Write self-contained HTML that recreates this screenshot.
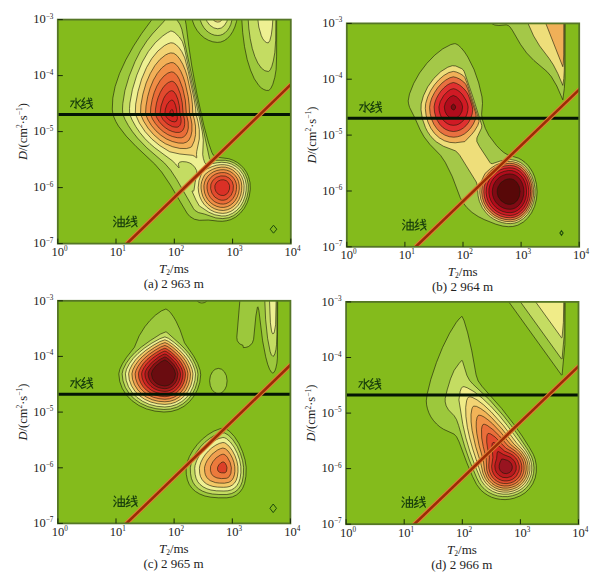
<!DOCTYPE html><html><head><meta charset="utf-8"><style>html,body{margin:0;padding:0;background:#fff;width:606px;height:581px;overflow:hidden}svg{display:block;position:absolute;left:0;top:0}text{font-family:"Liberation Serif",serif;fill:#222}</style></head><body>
<svg width="606" height="581" viewBox="0 0 606 581">
<defs>
<clipPath id="clip0"><rect x="57.8" y="19.6" width="233.0" height="224.0"/></clipPath>
<clipPath id="clip1"><rect x="346.8" y="23.4" width="232.4" height="223.4"/></clipPath>
<clipPath id="clip2"><rect x="57.9" y="300.8" width="232.5" height="222.6"/></clipPath>
<clipPath id="clip3"><rect x="346.1" y="301.9" width="232.4" height="222.3"/></clipPath>
</defs>
<rect x="57.8" y="19.6" width="233.0" height="224.0" fill="#84bb1c"/>
<g clip-path="url(#clip0)" stroke="#1a1a08" stroke-width="0.75" stroke-opacity="0.8">
<path fill="#9cc83c" fill-rule="evenodd" d="M154.1 16.6 184.6 16.6 186.1 24.6 188.8 46.2 191.8 66.1 196.8 93.3 203.8 125.3 208.3 142.1 211.8 152.3 213.3 155.1 215.3 156.7 217.8 157.3 228.8 158.7 233.3 160.3 237.5 162.6 240.8 165.2 244 168.6 246.7 172.6 248.5 176.6 250 182.6 250.3 189.1 249.3 196.1 247.3 202.5 244.3 208.2 240.4 213.1 235.8 217 230.8 219.6 226.8 220.7 222.3 221.3 217.8 221.1 208.3 220 199.3 220.3 194.3 219.2 189.8 216.4 187 213.1 170.3 184.9 161.7 172.1 154.8 164.1 136.2 146.6 126.2 136.1 118.5 126.1 115.9 121.6 113.9 117.1 112.9 114.1 112.3 109.1 112.8 98.1 115.1 86.6 119.5 73.6 125.7 60.1 133.5 46.1 141.6 33.6ZM191.9 16.6 237.4 16.6 236.5 21.6 234.8 27.1 232.7 31.6 230.3 35.3 227.3 38.5 224.3 40.6 220.8 42 217.3 42.4 212.8 41.8 208.3 40.2 204.3 37.9 200.5 34.6 197.2 30.6 194.5 26.1 192.6 21.1ZM241.6 16.6 276.7 16.6 276.6 56.1 276.1 69.6 274.8 77.3 272.8 84.3 270.8 88.5 268.8 90.4 266.3 90.4 263.8 89.5 261.3 87.9 258.9 85.6 254.3 78.8 250.5 70.1 247.2 59.6 244.5 46.6 242.7 32.6Z"/>
<path fill="#c4dc62" fill-rule="evenodd" d="M167.7 16.6 174.6 16.6 179.8 24.1 181.8 29.2 209.5 158.6 210.3 159.7 211.8 160.3 225.3 160.3 229.8 161.2 234.3 163.1 238.8 166.1 242.3 169.7 245.2 174.1 247.2 179.1 248.3 184.9 248.2 191.1 247 197.1 244.8 203.1 241.8 208.1 237.8 212.5 233.6 215.6 228.8 217.7 222.8 218.6 215.8 217.9 204.3 214 198.3 212.5 194.8 210.3 193.5 208.6 176.8 179.6 170.6 170.1 164.5 163.1 146.8 147.8 137.5 138.1 132.4 131.6 128.4 125.6 125.1 119.6 122.8 114.1 122.5 109.1 122.8 103.6 124.9 90.6 129.2 76.1 135 61.6 140.6 50.6 146.8 41 152.3 34 163.3 22.1ZM199.5 16.6 232.8 16.6 230.8 24.4 229.3 27.6 227.3 30.5 225.3 32.5 222.8 34.3 220.3 35.2 217.8 35.5 214.3 35.1 211.3 34 208.3 32.2 205.9 30.1 203.8 27.5 201.8 24.1 200.4 20.6ZM248 16.6 275.9 16.6 275.7 40.1 274.8 52.7 273.3 61 271.8 66.4 270.3 69.7 269.3 70.9 268.3 71.5 264.8 70.7 261.3 68 257.8 63 254.8 56.4 252.3 48.5 250.2 38.6 248.8 28.1Z"/>
<path fill="#eef092" fill-rule="evenodd" d="M205.2 16.6 228.3 16.6 226.8 21.6 224.3 25.6 221.3 28 217.8 28.8 213.8 27.9 209.8 25.2 207.1 21.6ZM257.5 16.6 273 16.6 272.3 27.1 271.3 34.9 269.8 40.7 268.3 42.8 266.8 42.7 264.8 41.4 262.8 38.8 261.3 35.7 258.8 27ZM170.8 31 172.3 31.3 174.8 32.6 179.3 37 182.3 41.5 184.3 47.7 202.3 131.8 203.3 140.1 202.7 154.6 203.4 158.6 204.7 162.6 205.8 163.9 207.8 164.5 217.3 162.7 221.8 162.3 226.8 162.7 231.3 164 235.8 166.5 239.9 170.1 243.1 174.6 245.2 179.6 246.3 185.1 246.1 190.6 245.1 196.1 243.1 201.6 240.3 206.4 236.8 210.3 232.8 213.2 228.3 215.2 225.3 215.9 221.8 216 214.8 214.8 208.8 212.2 199.3 205.9 196 200.1 192.2 191.6 192.3 190.9 193.3 191.3 194 190.1 195.1 182.6 196.9 174.1 196.7 170.6 194.8 167.3 192.3 164.6 189.8 163 186.3 161.9 182.3 161.6 179.8 162.1 178.7 163.1 178.4 164.6 179.1 167.6 178.8 167.9 175.7 164.1 172.1 160.6 154.8 147.8 149.8 143.5 144.9 138.6 139.9 132.6 135.8 126.6 132.2 120.1 129.7 114.1 129.5 108.6 129.9 103.1 132.4 89.6 136.8 75.1 142.3 62 148.3 51.6 155.3 42.7 162.8 35.9 167.3 32.8Z"/>
<path fill="#f2d474" fill-rule="evenodd" d="M210.9 16.6 223.7 16.6 222.8 18.7 221.3 20.6 219.8 21.7 217.8 22.1 215.8 21.7 213.8 20.5 212.3 19ZM170.8 42.8 173.3 43.1 176.3 44.9 179.3 48 181.8 51.6 184.8 57.9 188.3 71.7 194.3 100.1 195.6 108.1 196 114.1 198.1 122.1 199.3 129.6 199.3 139.1 196.7 151.6 196.5 154.6 196.8 157.6 196.3 157.7 194.3 156.1 192.3 155.3 179.8 154 169.8 151.8 159.8 145.6 151.9 139.1 145.1 131.6 139.4 123.1 135.3 114.1 135.7 104.1 138 91.6 141.6 79.1 146.5 67.6 151.8 58.5 157.8 51.1 164.3 45.7 167.8 43.8ZM202.8 169.7 205.3 169.6 212.2 166.6 216.3 165.3 220.3 164.7 224.3 164.7 228.3 165.4 232.5 167.1 236.2 169.6 239.1 172.6 241.7 176.6 243.4 181.1 244.1 185.6 243.9 191.1 242.8 196.2 240.8 201.1 237.9 205.6 234.3 209.2 230.8 211.4 226.8 212.9 222.8 213.4 218.8 213 214.8 212 210.8 210.1 207.3 207.6 203.9 204.1 201.6 200.6 199.8 196.6 198.6 192.1 198.2 187.6 199 180.6 201.8 172.6 202.3 170.1Z"/>
<path fill="#f2b058" fill-rule="evenodd" d="M170.8 52.9 173.8 53.3 176.8 55.4 179.8 59.1 182.8 64.3 185.3 70.2 187.3 76.5 191.3 95.1 192.4 104.1 192.8 114.1 194.5 120.1 195.5 126.1 195.6 134.6 194.3 140.9 191.7 146.6 190 147.6 186.3 148.6 179.8 148.4 172.8 146.8 165.3 143.7 159.8 140 153.6 134.6 148 128.1 143.6 121.1 140.5 114.1 140.9 105.1 142.9 94.1 146.1 83.1 150.2 73.6 154.8 65.7 159.8 59.6 165.3 55.1 168.3 53.6ZM221.3 167.1 225.3 167.2 228.8 168.1 232.3 169.7 235.4 172.1 238.1 175.1 240.1 178.6 241.3 182.1 241.8 186.1 241.6 190.6 240.7 195.1 238.9 199.6 236.7 203.1 233.9 206.1 230.8 208.3 227.3 209.8 223.3 210.5 218.8 210.1 214.8 208.9 211.3 207 207.8 204.1 205 200.6 202.9 196.6 201.7 192.6 201 188.1 201.1 184.6 201.7 181.6 203 178.1 204.8 174.6 208.8 171.4 212.8 169.2 216.8 167.8Z"/>
<path fill="#f08e46" fill-rule="evenodd" d="M170.8 62.6 173.3 62.7 175.8 64.3 178.3 67.2 180.8 71.3 183.1 76.6 185.1 82.6 188.2 96.6 189.2 105.1 189.6 114.1 191 119.1 191.9 124.1 191.9 131.1 190.9 136.1 188.8 140.3 186.3 142.2 183.3 143.2 178.3 143 172.3 141.5 166.3 138.9 160.8 135.2 155.8 130.7 151.5 125.6 148.1 120.1 145.5 114.1 146 106.1 147.7 96.6 150.1 88.1 153.4 80.1 157.3 73.4 161.8 67.9 166.3 64.3ZM220.3 169.8 223.8 169.7 226.8 170.2 229.8 171.3 232.8 173.2 235.3 175.7 237.3 178.6 238.5 181.6 239.2 185.1 239.3 189.1 238.6 193.1 237.3 196.8 235.3 200.4 233 203.1 230.3 205.2 227.3 206.7 223.8 207.4 220.3 207.3 216.8 206.4 213.3 204.7 210.5 202.6 207.9 199.6 206.1 196.6 204.7 193.1 204 189.1 203.9 185.6 204.6 182.1 205.9 179.1 207.8 176.2 210.3 173.9 213.3 171.9 216.8 170.5Z"/>
<path fill="#ea6c38" fill-rule="evenodd" d="M171.3 71.9 173.3 72.2 175.3 73.6 177.3 75.9 179.3 79.3 182.8 88.6 185.3 100.1 186.4 114.1 188.2 122.1 188.3 128.1 187.5 131.6 186.1 134.6 183.8 136.8 181.3 137.8 177.3 137.7 172.3 136.5 167.8 134.6 163.2 131.6 159.2 128.1 155.4 123.6 152.5 119.1 150.4 114.1 150.8 107.1 152.2 99.6 154.2 92.6 156.9 86.1 160.3 80.3 163.8 76.2 167.8 73.1ZM221.3 172.6 224.3 172.6 226.8 173.1 229.3 174.2 231.8 176 233.7 178.1 235.2 180.6 236.1 183.1 236.6 186.1 236.4 189.6 235.8 192.7 234.7 195.6 232.9 198.6 230.8 200.9 228.4 202.6 225.8 203.7 223.3 204.1 220.3 203.9 217.3 203 214.8 201.8 212.3 199.8 210.3 197.5 208.6 194.6 207.6 191.6 207 188.1 207.1 185.1 207.7 182.6 208.9 180.1 210.7 177.6 213 175.6 215.5 174.1 218.3 173.1Z"/>
<path fill="#e24a2e" fill-rule="evenodd" d="M171.3 81.3 172.8 81.4 174.3 82.3 175.9 84.1 177.7 87.1 180.3 93.9 182.2 102.6 183.2 114.1 184.6 120.1 184.7 124.6 184.1 127.6 182.9 130.1 181.3 131.6 179.3 132.4 175.8 132.4 172.3 131.5 168.8 130 165.1 127.6 161.8 124.7 159.2 121.6 157 118.1 155.2 114.1 155.5 109.1 156.5 103.1 158.1 97.6 160.3 92.3 162.7 88.1 165.3 84.9 168.3 82.5ZM220.8 175.9 225.3 176.1 229.3 178.1 232.2 181.6 233.4 185.6 233.1 190.6 231.2 195.1 227.9 198.6 225.8 199.7 223.8 200.2 221.3 200.2 218.9 199.6 214.8 197.1 211.9 193.1 210.6 188.6 210.9 184.1 212.8 180.4 216.3 177.4Z"/>
<path fill="#da3026" fill-rule="evenodd" d="M171.3 90.7 173.3 91.1 175.8 94.3 177.8 99.2 179.3 105.6 180 114.1 181 118.6 181.1 121.6 180.7 123.6 179.8 125.5 178.8 126.5 177.3 127.2 174.8 127.1 172.3 126.6 167.3 123.9 163 119.6 160 114.1 161 106.1 163.6 98.6 165.3 95.6 167.3 93.1 169.3 91.5ZM220.8 179.9 223.8 179.8 226.3 180.7 228.3 182.6 229.6 185.6 229.5 189.1 228.3 192.1 226.3 194.4 223.8 195.5 220.8 195.3 218.2 194.1 216 191.6 214.9 188.6 214.9 185.6 216 183.1 218.1 181.1Z"/>
<path fill="#d42420" fill-rule="evenodd" d="M171.8 100 173.3 100.7 174.5 102.6 175.6 105.6 176.5 109.6 177.4 118.6 176.5 121.1 174.8 121.9 171.8 121.4 168.8 119.7 166.4 117.1 164.8 114.1 165.4 109.1 167 104.6 169.3 101.4Z"/>
<path fill="#c81c1c" fill-rule="evenodd" d="M171.8 109.4 172.8 110.1 173.5 112.6 173.8 115.6 173.3 116.5 172.8 116.6 170.8 115.8 169.6 114.1 170.2 111.1Z"/>
</g>
<path d="M273.5 225.2L276.8 229.2L273.5 233.2L270.2 229.2Z" fill="none" stroke="#1e4a0c" stroke-width="1.0"/>
<line x1="57.8" y1="114.5" x2="290.8" y2="114.5" stroke="#041404" stroke-width="3"/>
<g clip-path="url(#clip0)"><line x1="126.5" y1="244.0" x2="291.0" y2="84.3" stroke="#de7e34" stroke-width="4.6"/><line x1="126.5" y1="244.0" x2="291.0" y2="84.3" stroke="#9a2c06" stroke-width="2.5"/></g>
<rect x="57.8" y="19.6" width="233.0" height="224.0" fill="none" stroke="#557626" stroke-width="1.8"/>
<line x1="57.8" y1="243.6" x2="57.8" y2="238.6" stroke="#1a2a0a" stroke-width="1"/>
<line x1="57.8" y1="19.6" x2="62.8" y2="19.6" stroke="#1a2a0a" stroke-width="1"/>
<line x1="116.0" y1="243.6" x2="116.0" y2="238.6" stroke="#1a2a0a" stroke-width="1"/>
<line x1="57.8" y1="75.6" x2="62.8" y2="75.6" stroke="#1a2a0a" stroke-width="1"/>
<line x1="174.3" y1="243.6" x2="174.3" y2="238.6" stroke="#1a2a0a" stroke-width="1"/>
<line x1="57.8" y1="131.6" x2="62.8" y2="131.6" stroke="#1a2a0a" stroke-width="1"/>
<line x1="232.6" y1="243.6" x2="232.6" y2="238.6" stroke="#1a2a0a" stroke-width="1"/>
<line x1="57.8" y1="187.6" x2="62.8" y2="187.6" stroke="#1a2a0a" stroke-width="1"/>
<line x1="290.8" y1="243.6" x2="290.8" y2="238.6" stroke="#1a2a0a" stroke-width="1"/>
<line x1="57.8" y1="243.6" x2="62.8" y2="243.6" stroke="#1a2a0a" stroke-width="1"/>
<text x="51.6" y="256.1" font-size="12.5">10<tspan font-size="7.2" dy="-5">0</tspan></text>
<text x="33.2" y="23.4" font-size="12.5">10<tspan font-size="7.2" dy="-4.8">&#8722;3</tspan></text>
<text x="109.8" y="256.1" font-size="12.5">10<tspan font-size="7.2" dy="-5">1</tspan></text>
<text x="33.2" y="79.4" font-size="12.5">10<tspan font-size="7.2" dy="-4.8">&#8722;4</tspan></text>
<text x="168.1" y="256.1" font-size="12.5">10<tspan font-size="7.2" dy="-5">2</tspan></text>
<text x="33.2" y="135.4" font-size="12.5">10<tspan font-size="7.2" dy="-4.8">&#8722;5</tspan></text>
<text x="226.4" y="256.1" font-size="12.5">10<tspan font-size="7.2" dy="-5">3</tspan></text>
<text x="33.2" y="191.4" font-size="12.5">10<tspan font-size="7.2" dy="-4.8">&#8722;6</tspan></text>
<text x="284.6" y="256.1" font-size="12.5">10<tspan font-size="7.2" dy="-5">4</tspan></text>
<text x="33.2" y="247.4" font-size="12.5">10<tspan font-size="7.2" dy="-4.8">&#8722;7</tspan></text>
<text x="174.0" y="272.9" font-size="13" text-anchor="middle"><tspan font-style="italic">T</tspan><tspan font-size="7.5" dy="2.2">2</tspan><tspan dy="-2.2">/ms</tspan></text>
<text x="173.8" y="288.2" font-size="13" text-anchor="middle">(a) 2 963 m</text>
<text transform="translate(26.8 131.6) rotate(-90)" font-size="12.5" text-anchor="middle"><tspan font-style="italic">D</tspan>/(cm<tspan font-size="7.5" dy="-4.5">2</tspan><tspan dy="4.5">&#183;s</tspan><tspan font-size="7.5" dy="-4.5">&#8722;1</tspan><tspan dy="4.5">)</tspan></text>
<g transform="translate(69.8 97.5)" fill="none" stroke="#1a400c" stroke-width="1.15" stroke-linecap="round"><path d="M6.2 0.6 V10.8 L4.6 9.8 M1.0 3.6 H4.3 L0.8 9.2 M10.8 2.4 L7.6 5.2 M6.8 4.2 Q8.5 7.8 11.6 10.4 M 14.6 0.4 L 12.2 4.0 L 14.9 4.4 L 11.8 8.4 L 15.6 7.2 M 11.8 11.2 L 15.9 9.6 M 17 3.4 L 22 2.9 M 16.6 6.0 L 22.6 5.3 M 18.8 0.5 Q 19.6 7.0 22.8 11.0 M 22.6 7.3 L 17.2 11.4 M 20.8 0.6 L 22 1.6"/></g>
<g transform="translate(112.8 215.6)" fill="none" stroke="#1a400c" stroke-width="1.15" stroke-linecap="round"><path d="M1.4 0.8 L2.8 2.2 M0.8 4.6 L2.3 5.8 M0.9 11.2 L3.4 7.0 M5.2 3.6 H11.4 V11.0 H5.2 Z M8.3 0.4 V11.0 M5.2 7.2 H11.4 M 16.1 0.4 L 13.7 4.0 L 16.4 4.4 L 13.3 8.4 L 17.1 7.2 M 13.3 11.2 L 17.4 9.6 M 18.5 3.4 L 23.5 2.9 M 18.1 6.0 L 24.1 5.3 M 20.3 0.5 Q 21.1 7.0 24.3 11.0 M 24.1 7.3 L 18.7 11.4 M 22.3 0.6 L 23.5 1.6"/></g>
<rect x="346.8" y="23.4" width="232.4" height="223.4" fill="#84bb1c"/>
<g clip-path="url(#clip1)" stroke="#1a1a08" stroke-width="0.75" stroke-opacity="0.8">
<path fill="#a4c848" fill-rule="evenodd" d="M488.6 20.4 565.2 20.4 565 78.4 564.3 88.5 562.8 99.8 556.8 86 551.3 76.6 546.8 71.4 533.8 60.4 526.6 52.9 520.5 44.4 512.3 30.2 509.8 26.7 508.3 25.5 506.3 24.8 498.8 25.5 494.8 25 491.3 23.4ZM450.8 44.6 454.3 43.7 455.8 43.8 458.3 45.2 461.3 48 464.5 51.9 467.8 57 474 69.4 478.7 82.9 482 96.9 482.5 103.4 481.6 114.4 482.3 119.4 485.3 128.4 488.8 135.3 496.3 145.3 500.3 149.5 503.8 152.5 507.8 154.9 518.3 158.1 521.8 160 525.3 162.7 528 165.4 530.6 168.9 532.7 172.4 534.6 176.9 536.5 184.4 537.1 191.9 536.5 198.9 534.6 206.4 531.5 212.9 527.4 218.4 523.3 222.1 517.8 225.2 512.8 226.5 508.3 226.7 502.8 226.1 495.8 224.2 484.3 219.6 478.3 216.6 472 212.4 466.8 207.5 463.2 202.9 460.3 197.9 452.2 176.4 445.3 162.4 440.6 155.4 429.8 144.3 424.1 136.9 420.2 129.9 414.8 117.8 409.6 107.4 408.6 103.9 408.2 100.9 409.5 93.9 413.7 83.4 419.6 72.9 426.8 63.4 434.8 55.1 442.8 48.8Z"/>
<path fill="#eede7a" fill-rule="evenodd" d="M528.8 20.4 564.5 20.4 564.3 69.9 563.8 78.5 562.8 85.4 557.8 73.5 553.3 64.8 549.3 58.7 539.6 45.9 533.6 35.9 527.8 22.9ZM447.8 67.2 452.3 65.7 455.8 66 461.8 68.7 463.3 70 464.3 71.8 473 97.4 481.8 125.4 481.6 127.9 476.9 137.9 476.8 141.4 479.4 146.4 489.9 162.4 490.8 163.4 492.3 163.7 500.3 161 505.3 159.9 510.8 159.6 515.8 160.5 520.8 162.7 524.8 165.8 528.4 169.9 531.6 175.4 533.9 181.9 535 188.4 534.9 195.4 533.6 202.4 531.1 208.9 527.6 214.4 523.3 218.7 518.3 221.8 514.8 223 510.8 223.6 506.3 223.4 502.3 222.6 497.8 221.2 493.8 219.2 490.3 216.8 487 213.9 482.4 207.9 479.4 201.4 478.1 195.9 477.3 185.4 476.3 182 459.8 155.4 457.3 152.4 455.3 150.8 443.3 146.2 436.3 141.8 433.1 138.9 430.1 135.4 427.4 131.4 425.4 127.4 422.4 118.9 421 109.9 421.2 103.9 423.4 95.9 427.7 86.9 433.8 78.4 440.8 71.6Z"/>
<path fill="#f0b058" fill-rule="evenodd" d="M546.6 20.4 563.8 20.4 563.7 54.9 563.3 63.7 562.8 66.7 545.6 22.9ZM453.3 71.4 456.3 72 459.8 73.5 463.3 75.7 464.8 77.5 467.3 83.8 478.4 117.9 479.1 121.4 477.8 125.4 474.5 130.9 471.7 134.4 464.8 141.6 455.3 142.8 449.8 142.4 444.3 140.7 439.3 137.8 434.5 133.4 430.8 128.2 427.9 121.9 426.1 115.4 425.3 108.4 425.7 103.4 427.7 96.9 430.5 90.9 434.4 84.9 438.8 79.8 443.8 75.5 448.8 72.6ZM507.8 161.5 512.8 161.7 517.3 162.9 521.8 165.4 525.6 168.9 528.8 173.2 531.3 178.4 532.9 183.9 533.7 189.9 533.5 195.9 532.3 201.8 530.3 207.1 527.5 211.9 523.8 216.1 519.8 219.1 515.3 221 510.8 221.7 504.8 221.3 499.3 219.8 493.8 217 489.3 213.5 485.6 209.4 482.7 204.4 480.7 198.9 479.8 192.9 480 187.9 481 182.9 482.6 178.4 485.1 173.4 490.6 168.4 495.8 165 501.8 162.6Z"/>
<path fill="#e87040" fill-rule="evenodd" d="M453.3 76.8 456.3 77.5 459.8 79.1 463.8 82 465.8 84.3 467.8 88.9 475.3 111.6 476.2 115.9 475.6 118.9 473.4 123.9 470.8 127.9 467.8 131.2 464.3 134 460.8 135.8 457.3 136.8 453.8 137.2 449.3 136.7 444.8 135.1 440.5 132.4 436.8 128.6 433.8 124.2 431.5 118.9 430.1 113.4 429.6 107.4 430.2 102.9 431.8 97.9 434.6 92.4 437.8 87.6 441.8 83.2 445.8 80 449.8 77.8ZM509.3 163.3 513.8 163.7 517.8 165.1 521.8 167.6 525.3 171.1 528.2 175.4 530.3 180.1 531.7 185.4 532.2 190.9 531.9 196.4 530.7 201.9 528.7 206.9 525.9 211.4 522.6 214.9 518.8 217.6 514.8 219.2 510.3 219.9 504.8 219.4 499.6 217.9 494.7 215.4 490.3 211.9 486.8 207.8 484.1 202.9 482.3 197.4 481.7 191.9 482.2 186.4 483.8 180.9 486.4 175.9 489.7 171.9 493.8 168.4 498.8 165.6 503.8 164Z"/>
<path fill="#e03030" fill-rule="evenodd" d="M453.3 82.5 456.3 83.3 459.8 85.2 463.3 88.1 466.3 91.5 468.3 94.9 470.3 100.1 472.3 106.6 472.7 109.9 472.2 113.9 470.7 118.4 468.8 122.1 466.3 125.4 463.3 128.1 460.3 129.9 456.8 131.1 453.3 131.5 449.3 130.9 445.8 129.5 442.7 127.4 439.8 124.4 437.3 120.5 435.6 116.4 434.5 111.9 434.1 106.9 434.8 102.9 436.2 98.9 438.3 94.9 440.8 91.2 443.8 87.9 447.3 85 450.3 83.4ZM509.8 165.4 513.8 165.8 517.8 167.3 521.3 169.7 524.4 172.9 527.1 176.9 529 181.4 530.2 186.4 530.6 191.4 530.3 196.4 529.1 201.4 527.3 205.9 524.8 209.9 521.8 213.1 518.3 215.6 514.3 217.2 510.3 217.8 505.3 217.4 500.3 216 495.8 213.6 491.7 210.4 488.4 206.4 485.9 201.9 484.3 196.9 483.8 191.9 484.2 186.9 485.6 181.9 488 177.4 491.3 173.2 495.3 169.9 499.8 167.4 504.8 165.9Z"/>
<path fill="#d01a24" fill-rule="evenodd" d="M453.3 88.7 455.3 89.1 457.8 90.4 460.3 92.3 462.8 95 466.4 100.9 467.5 103.9 468.1 106.9 467.8 110.4 467 113.9 465.8 116.9 463.8 119.9 461.4 122.4 458.8 124.1 456.3 125 453.3 125.3 450.3 124.9 447.8 123.9 445.3 122.2 443.1 119.9 441.3 117.1 440 113.9 439.2 110.4 438.9 106.9 440.3 101.4 443.8 95.4 448.3 90.9 450.8 89.4ZM508.8 167.8 512.8 168 516.3 169.1 519.8 171.2 522.6 173.9 525.1 177.4 527 181.4 528.2 185.9 528.8 190.9 528.5 195.4 527.6 199.9 525.8 204.4 523.7 207.9 520.8 211.1 517.7 213.4 514.1 214.9 510.3 215.5 505.8 215.1 501.3 213.8 497.3 211.8 493.5 208.9 490.5 205.4 488.2 201.4 486.7 196.9 486.1 192.4 486.4 187.9 487.6 183.4 489.8 178.9 492.5 175.4 495.8 172.4 499.8 170 504.3 168.4Z"/>
<path fill="#b00c1c" fill-rule="evenodd" d="M453.3 95.5 456.3 96.7 459.3 99.5 461.7 103.4 462.6 106.9 461.9 111.4 459.8 115.3 456.8 117.7 453.3 118.5 449.8 117.6 446.8 114.9 445 111.4 444.3 106.9 445.3 103.2 447.6 99.4 450.3 96.8ZM508.3 170.5 511.8 170.6 514.8 171.4 517.8 172.9 520.7 175.4 523 178.4 524.8 181.9 526 185.9 526.5 189.9 526.5 194.4 525.7 198.4 524.3 202.3 522.3 205.8 520.1 208.4 517.3 210.6 514.3 212 510.8 212.7 506.8 212.5 502.8 211.5 499.3 209.8 495.8 207.3 493.2 204.4 491 200.9 489.5 196.9 488.9 192.9 489 188.9 490 184.9 491.5 181.4 493.9 177.9 496.8 175.1 500.3 172.8 504.3 171.3Z"/>
<path fill="#800a14" fill-rule="evenodd" d="M453.3 104.1 454.8 105 455.7 106.9 455.1 108.9 454.3 109.7 453.3 109.9 451.7 108.9 451.1 106.9 451.8 105.3ZM509.8 173.9 512.8 174.3 515.3 175.2 517.8 176.9 519.7 178.9 521.4 181.4 522.8 184.7 523.6 187.9 523.9 191.4 523.7 194.9 522.8 198.4 521.6 201.4 520 203.9 517.8 206.3 515.4 207.9 512.8 208.9 510.3 209.3 506.8 209 503.3 208 500.3 206.4 497.8 204.4 495.6 201.9 493.8 198.8 492.7 195.4 492.3 191.9 492.6 188.4 493.6 184.9 495.2 181.9 497.3 179.3 499.8 177.1 502.8 175.4 506.3 174.3Z"/>
<path fill="#580808" fill-rule="evenodd" d="M509.8 178.8 511.8 179 513.8 179.7 517 182.4 519.2 186.4 520.1 191.4 519.3 196.4 517.3 200.4 513.9 203.4 510.3 204.4 507.8 204.2 505.3 203.5 501.2 200.9 498.3 196.9 497.5 194.4 497.2 191.9 497.4 189.4 498.1 186.9 500.8 182.7 504.8 179.9 507.3 179.1Z"/>
</g>
<path d="M561.5 230.8L563.1 233.0L561.5 235.2L559.9 233.0Z" fill="none" stroke="#1e4a0c" stroke-width="1.1"/>
<line x1="346.8" y1="118.2" x2="579.2" y2="118.2" stroke="#041404" stroke-width="3"/>
<g clip-path="url(#clip1)"><line x1="415.5" y1="247.0" x2="580.0" y2="88.8" stroke="#de7e34" stroke-width="4.6"/><line x1="415.5" y1="247.0" x2="580.0" y2="88.8" stroke="#9a2c06" stroke-width="2.5"/></g>
<rect x="346.8" y="23.4" width="232.4" height="223.4" fill="none" stroke="#557626" stroke-width="1.8"/>
<line x1="346.8" y1="246.8" x2="346.8" y2="241.8" stroke="#1a2a0a" stroke-width="1"/>
<line x1="346.8" y1="23.4" x2="351.8" y2="23.4" stroke="#1a2a0a" stroke-width="1"/>
<line x1="404.9" y1="246.8" x2="404.9" y2="241.8" stroke="#1a2a0a" stroke-width="1"/>
<line x1="346.8" y1="79.2" x2="351.8" y2="79.2" stroke="#1a2a0a" stroke-width="1"/>
<line x1="463.0" y1="246.8" x2="463.0" y2="241.8" stroke="#1a2a0a" stroke-width="1"/>
<line x1="346.8" y1="135.1" x2="351.8" y2="135.1" stroke="#1a2a0a" stroke-width="1"/>
<line x1="521.1" y1="246.8" x2="521.1" y2="241.8" stroke="#1a2a0a" stroke-width="1"/>
<line x1="346.8" y1="191.0" x2="351.8" y2="191.0" stroke="#1a2a0a" stroke-width="1"/>
<line x1="579.2" y1="246.8" x2="579.2" y2="241.8" stroke="#1a2a0a" stroke-width="1"/>
<line x1="346.8" y1="246.8" x2="351.8" y2="246.8" stroke="#1a2a0a" stroke-width="1"/>
<text x="340.6" y="259.3" font-size="12.5">10<tspan font-size="7.2" dy="-5">0</tspan></text>
<text x="322.2" y="27.2" font-size="12.5">10<tspan font-size="7.2" dy="-4.8">&#8722;3</tspan></text>
<text x="398.7" y="259.3" font-size="12.5">10<tspan font-size="7.2" dy="-5">1</tspan></text>
<text x="322.2" y="83.0" font-size="12.5">10<tspan font-size="7.2" dy="-4.8">&#8722;4</tspan></text>
<text x="456.8" y="259.3" font-size="12.5">10<tspan font-size="7.2" dy="-5">2</tspan></text>
<text x="322.2" y="138.9" font-size="12.5">10<tspan font-size="7.2" dy="-4.8">&#8722;5</tspan></text>
<text x="514.9" y="259.3" font-size="12.5">10<tspan font-size="7.2" dy="-5">3</tspan></text>
<text x="322.2" y="194.8" font-size="12.5">10<tspan font-size="7.2" dy="-4.8">&#8722;6</tspan></text>
<text x="573.0" y="259.3" font-size="12.5">10<tspan font-size="7.2" dy="-5">4</tspan></text>
<text x="322.2" y="250.6" font-size="12.5">10<tspan font-size="7.2" dy="-4.8">&#8722;7</tspan></text>
<text x="462.7" y="276.1" font-size="13" text-anchor="middle"><tspan font-style="italic">T</tspan><tspan font-size="7.5" dy="2.2">2</tspan><tspan dy="-2.2">/ms</tspan></text>
<text x="462.5" y="291.4" font-size="13" text-anchor="middle">(b) 2 964 m</text>
<text transform="translate(315.8 135.1) rotate(-90)" font-size="12.5" text-anchor="middle"><tspan font-style="italic">D</tspan>/(cm<tspan font-size="7.5" dy="-4.5">2</tspan><tspan dy="4.5">&#183;s</tspan><tspan font-size="7.5" dy="-4.5">&#8722;1</tspan><tspan dy="4.5">)</tspan></text>
<g transform="translate(358.8 101.2)" fill="none" stroke="#1a400c" stroke-width="1.15" stroke-linecap="round"><path d="M6.2 0.6 V10.8 L4.6 9.8 M1.0 3.6 H4.3 L0.8 9.2 M10.8 2.4 L7.6 5.2 M6.8 4.2 Q8.5 7.8 11.6 10.4 M 14.6 0.4 L 12.2 4.0 L 14.9 4.4 L 11.8 8.4 L 15.6 7.2 M 11.8 11.2 L 15.9 9.6 M 17 3.4 L 22 2.9 M 16.6 6.0 L 22.6 5.3 M 18.8 0.5 Q 19.6 7.0 22.8 11.0 M 22.6 7.3 L 17.2 11.4 M 20.8 0.6 L 22 1.6"/></g>
<g transform="translate(401.8 218.8)" fill="none" stroke="#1a400c" stroke-width="1.15" stroke-linecap="round"><path d="M1.4 0.8 L2.8 2.2 M0.8 4.6 L2.3 5.8 M0.9 11.2 L3.4 7.0 M5.2 3.6 H11.4 V11.0 H5.2 Z M8.3 0.4 V11.0 M5.2 7.2 H11.4 M 16.1 0.4 L 13.7 4.0 L 16.4 4.4 L 13.3 8.4 L 17.1 7.2 M 13.3 11.2 L 17.4 9.6 M 18.5 3.4 L 23.5 2.9 M 18.1 6.0 L 24.1 5.3 M 20.3 0.5 Q 21.1 7.0 24.3 11.0 M 24.1 7.3 L 18.7 11.4 M 22.3 0.6 L 23.5 1.6"/></g>
<rect x="57.9" y="300.8" width="232.5" height="222.6" fill="#84bb1c"/>
<g clip-path="url(#clip2)" stroke="#1a1a08" stroke-width="0.75" stroke-opacity="0.8">
<path fill="#9cc83c" fill-rule="evenodd" d="M195.2 297.8 208.8 297.8 207.9 299.8 206.4 301.5 204.4 302.6 201.9 303 199.9 302.7 197.9 301.7 196.1 299.8ZM240.1 297.8 277.7 297.8 277.4 358.1 276.9 363.2 275.9 367.9 274.9 370.9 273.4 372.9 272.4 372.9 271.4 372.2 269.6 369.3 267.7 364.3 265.7 356.8 262.6 340.8 258.9 310.5 257.9 306.8 257.4 307.4 255.9 315.9 253.6 339.3 252.4 342.8 250.8 344.8 248.4 346.6 245.9 347.4 243.4 347.6 242.9 345.2 240.9 344.5 239.4 343.6 237.3 340.8 236.8 337.3ZM165.9 309 167.9 310.1 170.6 312.8 173.4 316.7 176.1 321.3 180 329.8 184.5 342.8 193.5 355.8 197.6 363.3 200.1 370.3 200.7 374.8 199.8 382.3 197.6 389.3 194.2 395.8 189.4 401.8 184 406.3 177.9 409.5 170.9 411.5 163.9 412 154.9 411.1 146.4 408.9 138.9 405.5 132.1 400.8 126.4 395 122.2 388.3 119.7 381.3 118.8 373.8 119.8 369.3 122.4 363.8 126.2 357.8 134.4 347.3 139.2 335.8 144.8 326.8 149.9 320.6 155.4 315.2 161.4 310.9ZM218.4 368.4 221.7 369.3 224.4 371.8 226.4 375.8 227.1 380.8 226.5 385.8 224.7 389.8 221.9 392.5 220.4 393.3 218.4 393.6 216.4 393.3 214.9 392.6 212.1 389.8 210.3 385.8 209.6 380.8 210.4 375.8 212.4 371.8 215.1 369.3ZM224.4 428.4 226.9 429.5 229.4 431.2 234.4 436.5 238.9 443.5 242.6 451.8 245 459.8 246.2 467.3 245.9 476.3 244.6 483.3 242.6 488.3 239.9 492.1 236.4 495 232.4 496.9 226.9 497.8 218.4 497.8 210.9 497.2 204.9 496 199.9 494.1 195.4 491.4 191.9 488.2 189.2 484.3 187.4 479.8 186.3 474.3 186.1 467.8 187 462.8 189.4 456.6 192.9 450.3 197.4 444.3 202.4 439.1 207.9 434.7 213.9 431.1 219.9 428.8 222.9 428.2Z"/>
<path fill="#c4dc62" fill-rule="evenodd" d="M264.7 297.8 277 297.8 276.9 334.3 276.5 344.8 275.9 349.8 274.9 353.7 273.9 355.8 272.9 356.4 271.4 354.9 270.2 351.8 267.6 338.3 265.6 319.3ZM165.4 332 166.4 332.1 167.9 333.2 179.4 343.5 184.8 348.8 188.9 353.6 192.5 358.8 195.3 364.3 197.3 369.8 198 374.3 197.3 381.3 195.2 388.3 192.1 394.3 187.8 399.8 182.9 403.9 176.9 407.2 170.4 409 163.9 409.5 155.9 408.7 147.9 406.6 140.6 403.3 134.4 399 129.4 393.8 125.3 387.3 123 380.8 122.1 373.8 123.2 369.3 126.2 363.3 130.1 357.8 134.9 352.6 141.4 347 150.4 340.5 160.4 334.1ZM224.4 432.9 228.4 435.1 232.9 439.8 237.2 446.3 240.5 453.8 242.6 460.8 243.6 467.3 243.4 475.3 242.2 481.8 240.6 485.8 238.2 489.3 234.9 492 231.4 493.6 226.9 494.5 218.9 494.5 212.4 494 206.9 492.8 202.4 491.1 198.6 488.8 195.3 485.8 193 482.3 191.4 478.3 190.5 473.3 190.3 467.8 191.2 463.3 193.3 457.8 196.4 452.3 200.4 446.9 204.9 442.3 209.9 438.3 215.4 435 220.9 433.1Z"/>
<path fill="#eef092" fill-rule="evenodd" d="M269.4 297.8 276.2 297.8 275.6 324.8 274.4 331.7 273.9 333.1 272.9 334 271.9 332.3 271.4 330.1 270.4 322.8ZM164.9 336.9 168.4 338.3 174.4 342.6 180.9 348.2 185.9 353.6 189.4 358.3 192.5 363.8 194.6 369.3 195.5 373.8 194.9 380.3 193.1 386.8 190.1 392.8 186.4 397.6 181.9 401.5 176.4 404.6 170.9 406.3 164.9 407 156.9 406.3 149.4 404.4 142.6 401.3 136.9 397.3 132 392.3 128.5 386.8 126.2 380.3 125.4 373.8 126.5 369.3 129.3 363.8 133.3 358.3 137.9 353.5 144.2 348.3 151.9 343.1 159.9 338.7ZM222.9 437.5 224.4 437.7 226.4 438.6 230.4 442.1 234.2 447.3 237.4 453.6 239.6 459.8 240.8 466.3 240.9 472.8 240.1 478.3 238.8 482.3 236.9 485.6 234.4 488.2 231.4 489.9 227.9 490.8 223.9 491 216.4 490.8 210.9 490 206.9 488.8 203 486.8 199.9 484.3 197.8 481.8 196.1 478.3 195.1 474.3 194.7 468.3 195.1 465.3 196.6 460.8 199.1 455.8 202.2 451.3 205.9 447.1 209.9 443.6 214.4 440.6 218.9 438.5Z"/>
<path fill="#f2c866" fill-rule="evenodd" d="M164.9 339.8 168.4 341.3 173.4 344.8 179.2 349.8 183.9 354.8 187.3 359.3 190.1 364.3 192.1 369.3 193 373.8 192.4 379.8 190.8 385.8 188 391.3 184.6 395.8 180.4 399.5 175.4 402.3 170.4 403.8 164.9 404.4 157.9 403.8 150.9 402.1 144.7 399.3 139.4 395.7 134.9 391.1 131.5 385.8 129.3 379.8 128.6 373.8 129.6 369.8 132.1 364.8 135.6 359.8 139.9 355.3 145.8 350.3 152.9 345.5 159.9 341.6ZM222.9 442.5 224.4 442.7 225.9 443.5 229.2 446.3 232.4 450.7 235 455.8 236.9 461.2 237.9 466.3 238 471.8 237.3 476.8 236.2 480.3 234.7 482.8 232.4 485 229.9 486.4 226.9 487.1 223.4 487.3 217.4 487.1 212.9 486.4 209.4 485.3 206.4 483.8 203.9 481.8 201.9 479.3 200.4 476.3 199.7 473.3 199.4 468.3 199.8 465.8 200.9 462.2 202.9 458.2 205.5 454.3 208.6 450.8 211.9 447.8 215.9 445.1 219.4 443.4Z"/>
<path fill="#f0a050" fill-rule="evenodd" d="M164.9 342.6 167.9 343.8 172.9 347.4 178 351.8 182.2 356.3 185.5 360.8 187.9 365.3 189.7 369.8 190.5 373.8 190 379.3 188.4 384.8 186 389.8 182.9 393.8 179 397.3 174.9 399.7 169.9 401.3 164.9 401.8 158.4 401.3 152.4 399.8 146.8 397.3 141.7 393.8 137.7 389.8 134.5 384.8 132.5 379.3 131.9 373.8 132.9 369.8 135.2 365.3 138.4 360.8 142.4 356.6 147.9 352 154.4 347.6 160.4 344.2ZM222.9 448 225.4 448.8 227.9 450.9 230.4 454.3 232.5 458.3 233.9 462.3 234.8 466.8 234.9 471.3 234.4 474.8 233.6 477.3 232.4 479.5 230.9 481.1 228.9 482.3 224.4 483.2 219.4 483.1 215.4 482.6 210.4 480.7 208.4 479.2 206.7 477.3 205.4 474.8 204.8 472.3 204.5 468.3 204.8 466.3 205.8 463.3 207.4 460.1 211.9 454.3 217.4 450.1 220.4 448.7Z"/>
<path fill="#ec7a3c" fill-rule="evenodd" d="M164.9 345.4 167.9 346.7 171.9 349.6 176.7 353.8 180.4 357.8 183.3 361.8 185.6 365.8 187.3 370.3 188 373.8 187.5 378.8 186.1 383.8 183.9 388.3 181.3 391.8 177.9 394.9 173.9 397.3 169.4 398.8 164.9 399.3 158.9 398.7 153.4 397.3 148.4 395 143.9 391.9 140.4 388.3 137.5 383.8 135.7 378.8 135.1 373.8 136 370.3 138 366.3 140.8 362.3 144.4 358.3 149.4 354.1 155.4 350 160.9 346.9ZM223.9 454.3 225.6 455.3 227.4 457.3 230.1 462.3 231.4 467.8 230.9 473.3 229.4 476.4 227.9 477.7 226.4 478.3 221.4 478.6 216.9 477.9 213.5 476.3 211.4 473.8 210.4 470.3 210.6 466.3 212.8 461.8 216.2 457.8 220.4 455 222.4 454.3Z"/>
<path fill="#dc4028" fill-rule="evenodd" d="M164.9 348.2 167.4 349.3 171.4 352.2 175.4 355.8 178.9 359.6 181.4 363.1 183.4 366.8 185 370.8 185.5 373.8 185.1 378.3 183.8 382.8 181.8 386.8 179.4 390.1 176.4 392.8 172.9 394.9 168.9 396.2 164.9 396.7 159.9 396.2 154.9 395 150.4 392.9 146.4 390.2 143.1 386.8 140.6 382.8 138.9 378.3 138.4 373.8 139.1 370.8 141.1 366.8 143.5 363.3 146.9 359.6 151.4 355.8 156.4 352.4 161.4 349.5ZM222.9 461.9 223.9 462 225.4 463.5 226.4 465.4 227 467.8 226.5 471.3 225.7 472.3 224.4 472.9 221.4 472.8 219.4 472.2 217.9 470.8 217.5 469.3 217.6 467.3 218.9 464.8 220.9 462.8Z"/>
<path fill="#d02424" fill-rule="evenodd" d="M164.9 351.1 166.9 351.9 170.4 354.4 174.1 357.8 177.3 361.3 181.3 367.8 182.6 371.3 183 373.8 182.6 377.8 181.5 381.8 179.8 385.3 177.5 388.3 174.9 390.7 171.9 392.5 168.4 393.7 164.9 394 160.4 393.6 155.9 392.4 151.9 390.6 148.4 388 145.4 384.8 143.4 381.5 142.1 377.8 141.6 373.8 142.2 371.3 143.9 367.8 146.3 364.3 149.1 361.3 152.9 358 157.4 354.8 161.9 352.2Z"/>
<path fill="#b01a1c" fill-rule="evenodd" d="M164.9 354 166.9 354.8 169.6 356.8 175.4 362.7 178.9 368.3 180 371.3 180.5 373.8 180.2 377.3 179.2 380.8 177.7 383.8 175.9 386.3 173.4 388.6 170.9 390 167.9 391.1 164.9 391.4 160.9 391 157.4 390.1 153.9 388.5 150.9 386.3 148.5 383.8 146.6 380.8 145.3 377.3 144.9 373.8 145.4 371.3 146.9 368.4 151.4 362.8 158.4 357.2 162.4 354.9Z"/>
<path fill="#8a1016" fill-rule="evenodd" d="M164.9 356.9 166.4 357.5 168.9 359.3 173.7 364.3 176.7 369.3 178 373.8 177 379.3 175.9 381.8 174.2 384.3 172 386.3 169.9 387.6 167.4 388.4 164.9 388.7 161.4 388.3 158.4 387.5 155.4 386 153.1 384.3 150.9 381.9 149.4 379.4 148.5 376.8 148.1 373.8 148.5 371.8 149.8 369.3 153.7 364.3 159.9 359.4Z"/>
<path fill="#6a0c10" fill-rule="evenodd" d="M164.9 359.9 167.9 361.7 171.9 365.8 174.4 369.9 175.5 373.8 174.7 378.3 172.4 382.4 168.9 385.1 164.9 386 159.9 385.1 157.4 383.9 155.4 382.4 153.6 380.3 152.4 378.3 151.4 373.8 152.6 370.3 155.9 365.9 160.9 361.9Z"/>
</g>
<path d="M273.2 504.0L276.5 508.3L273.2 512.6L269.9 508.3Z" fill="none" stroke="#1e4a0c" stroke-width="1.0"/>
<line x1="57.9" y1="394.2" x2="290.4" y2="394.2" stroke="#041404" stroke-width="3"/>
<g clip-path="url(#clip2)"><line x1="125.8" y1="524.0" x2="291.0" y2="364.5" stroke="#de7e34" stroke-width="4.6"/><line x1="125.8" y1="524.0" x2="291.0" y2="364.5" stroke="#9a2c06" stroke-width="2.5"/></g>
<rect x="57.9" y="300.8" width="232.5" height="222.6" fill="none" stroke="#557626" stroke-width="1.8"/>
<line x1="57.9" y1="523.4" x2="57.9" y2="518.4" stroke="#1a2a0a" stroke-width="1"/>
<line x1="57.9" y1="300.8" x2="62.9" y2="300.8" stroke="#1a2a0a" stroke-width="1"/>
<line x1="116.0" y1="523.4" x2="116.0" y2="518.4" stroke="#1a2a0a" stroke-width="1"/>
<line x1="57.9" y1="356.4" x2="62.9" y2="356.4" stroke="#1a2a0a" stroke-width="1"/>
<line x1="174.1" y1="523.4" x2="174.1" y2="518.4" stroke="#1a2a0a" stroke-width="1"/>
<line x1="57.9" y1="412.1" x2="62.9" y2="412.1" stroke="#1a2a0a" stroke-width="1"/>
<line x1="232.3" y1="523.4" x2="232.3" y2="518.4" stroke="#1a2a0a" stroke-width="1"/>
<line x1="57.9" y1="467.8" x2="62.9" y2="467.8" stroke="#1a2a0a" stroke-width="1"/>
<line x1="290.4" y1="523.4" x2="290.4" y2="518.4" stroke="#1a2a0a" stroke-width="1"/>
<line x1="57.9" y1="523.4" x2="62.9" y2="523.4" stroke="#1a2a0a" stroke-width="1"/>
<text x="51.7" y="535.9" font-size="12.5">10<tspan font-size="7.2" dy="-5">0</tspan></text>
<text x="33.3" y="304.6" font-size="12.5">10<tspan font-size="7.2" dy="-4.8">&#8722;3</tspan></text>
<text x="109.8" y="535.9" font-size="12.5">10<tspan font-size="7.2" dy="-5">1</tspan></text>
<text x="33.3" y="360.2" font-size="12.5">10<tspan font-size="7.2" dy="-4.8">&#8722;4</tspan></text>
<text x="167.9" y="535.9" font-size="12.5">10<tspan font-size="7.2" dy="-5">2</tspan></text>
<text x="33.3" y="415.9" font-size="12.5">10<tspan font-size="7.2" dy="-4.8">&#8722;5</tspan></text>
<text x="226.1" y="535.9" font-size="12.5">10<tspan font-size="7.2" dy="-5">3</tspan></text>
<text x="33.3" y="471.6" font-size="12.5">10<tspan font-size="7.2" dy="-4.8">&#8722;6</tspan></text>
<text x="284.2" y="535.9" font-size="12.5">10<tspan font-size="7.2" dy="-5">4</tspan></text>
<text x="33.3" y="527.2" font-size="12.5">10<tspan font-size="7.2" dy="-4.8">&#8722;7</tspan></text>
<text x="173.8" y="552.7" font-size="13" text-anchor="middle"><tspan font-style="italic">T</tspan><tspan font-size="7.5" dy="2.2">2</tspan><tspan dy="-2.2">/ms</tspan></text>
<text x="173.6" y="568.0" font-size="13" text-anchor="middle">(c) 2 965 m</text>
<text transform="translate(26.9 412.1) rotate(-90)" font-size="12.5" text-anchor="middle"><tspan font-style="italic">D</tspan>/(cm<tspan font-size="7.5" dy="-4.5">2</tspan><tspan dy="4.5">&#183;s</tspan><tspan font-size="7.5" dy="-4.5">&#8722;1</tspan><tspan dy="4.5">)</tspan></text>
<g transform="translate(69.9 377.2)" fill="none" stroke="#1a400c" stroke-width="1.15" stroke-linecap="round"><path d="M6.2 0.6 V10.8 L4.6 9.8 M1.0 3.6 H4.3 L0.8 9.2 M10.8 2.4 L7.6 5.2 M6.8 4.2 Q8.5 7.8 11.6 10.4 M 14.6 0.4 L 12.2 4.0 L 14.9 4.4 L 11.8 8.4 L 15.6 7.2 M 11.8 11.2 L 15.9 9.6 M 17 3.4 L 22 2.9 M 16.6 6.0 L 22.6 5.3 M 18.8 0.5 Q 19.6 7.0 22.8 11.0 M 22.6 7.3 L 17.2 11.4 M 20.8 0.6 L 22 1.6"/></g>
<g transform="translate(112.9 495.4)" fill="none" stroke="#1a400c" stroke-width="1.15" stroke-linecap="round"><path d="M1.4 0.8 L2.8 2.2 M0.8 4.6 L2.3 5.8 M0.9 11.2 L3.4 7.0 M5.2 3.6 H11.4 V11.0 H5.2 Z M8.3 0.4 V11.0 M5.2 7.2 H11.4 M 16.1 0.4 L 13.7 4.0 L 16.4 4.4 L 13.3 8.4 L 17.1 7.2 M 13.3 11.2 L 17.4 9.6 M 18.5 3.4 L 23.5 2.9 M 18.1 6.0 L 24.1 5.3 M 20.3 0.5 Q 21.1 7.0 24.3 11.0 M 24.1 7.3 L 18.7 11.4 M 22.3 0.6 L 23.5 1.6"/></g>
<rect x="346.1" y="301.9" width="232.4" height="222.3" fill="#84bb1c"/>
<g clip-path="url(#clip3)" stroke="#1a1a08" stroke-width="0.75" stroke-opacity="0.8">
<path fill="#9cc83c" fill-rule="evenodd" d="M506.7 298.9 565.2 298.9 564.9 344.4 562.1 374.7 561.6 375.2ZM461.6 316.6 462.1 316.5 464.1 320.8 467.7 332.9 471.8 350.9 476.1 374.9 478.1 380.9 482 386.4 501.6 408.4 514.3 424.9 522.1 436 529.6 447.8 533.3 454.4 535.2 459.4 536.3 465.4 536.3 471.9 535.2 477.9 532.7 483.9 529.2 488.9 525.1 492.8 520.1 495.9 514.1 498.2 509.6 499.2 505.1 499.6 500.6 499.4 496.1 498.6 491.6 497.2 487.6 495.2 484.1 492.9 480.7 489.9 476.6 484.5 472.5 476.4 466.9 462.9 459.1 441.9 456.6 436.8 454.1 434.1 443.6 429.3 439.9 426.9 436.6 424 433.6 420.7 430.9 416.9 428.9 412.9 427.5 408.9 426.6 404.9 426.3 400.9 427.1 394.4 430.8 379.4 436.5 362.4 442.6 347.3 449.6 333.2 456.1 322.7 459.1 318.9Z"/>
<path fill="#c4dc62" fill-rule="evenodd" d="M518.3 298.9 564.5 298.9 564.1 336.4 562.1 358.6 561.6 359.1ZM461.6 360.6 462.1 360.5 462.6 361.4 466.9 375.4 469.6 380.4 472.7 383.9 489.6 399.9 503.6 415.9 511.1 425.5 518.6 436 528.2 450.4 531.7 456.9 533.4 462.4 534 467.9 533.6 473.4 532.1 478.9 529.5 483.9 526.1 488.2 522.1 491.5 517.1 494.2 512.6 495.7 507.6 496.6 502.6 496.6 497.6 495.9 493.1 494.5 488.6 492.3 484.7 489.4 481.4 485.9 479 482.4 476.7 477.9 469.7 460.9 464.8 446.9 458.6 425.4 456.6 419.7 454.1 415.7 448.5 409.9 446.2 405.9 445.2 401.9 445.2 398.4 447.2 389.9 450.5 378.9 454.1 370.4 459.1 363.4Z"/>
<path fill="#f0ec88" fill-rule="evenodd" d="M533.5 298.9 563.8 298.9 563.4 322.4 562.1 337.5 561.6 337.9ZM462.6 386.8 464.1 386.7 467.1 387.7 474.1 391.7 482.1 398 490.6 406.1 499.1 415.4 507.2 425.4 525.6 450.3 528.5 454.9 530.6 459.9 531.7 464.9 531.8 469.9 531.1 474.9 529.2 479.9 526.6 484.1 523.1 487.8 519.1 490.6 514.1 492.8 508.6 494.1 503.1 494.2 497.6 493.3 492.6 491.4 488.1 488.5 484.3 484.9 481.2 480.4 474.9 465.4 470 451.9 465.9 437.9 462.8 424.4 458.9 399.9 460.2 391.4 461.3 388.4Z"/>
<path fill="#f2d474" fill-rule="evenodd" d="M468.6 397 470.1 396.8 472.1 397.3 477.1 399.9 483.6 404.8 491.1 411.8 503.6 425.8 516.5 442.9 523.7 450.9 527 455.9 528.8 460.4 529.9 465.4 529.9 470.4 529.1 474.9 527.3 479.4 524.7 483.4 521.6 486.5 517.6 489.2 513.1 491 508.1 492.1 503.1 492.1 498.1 491.2 493.1 489.1 489.1 486.4 485.7 482.9 483.1 479 480.9 473.9 472.7 448.9 469.7 437.9 467.4 427.4 465.9 416.4 465.7 407.4 466.6 400.8 467.5 398.4Z"/>
<path fill="#f2b458" fill-rule="evenodd" d="M473.6 406.1 476.6 406.4 480.6 408.5 485.6 412.1 491.6 417.6 502.1 429 513.8 443.9 521.7 451.4 525.4 456.9 527.1 460.9 528 465.4 528.1 469.9 527.3 474.4 525.7 478.4 523.4 481.9 520.5 484.9 516.8 487.4 512.6 489.1 508.1 490.1 503.6 490.1 499.1 489.4 495.1 487.8 491.1 485.3 487.6 481.9 485.1 478.2 482.9 472.9 480.7 462.9 475.6 446.4 472.1 430.4 471.1 421.9 471 414.4 471.9 408.9 472.6 407.3Z"/>
<path fill="#f09248" fill-rule="evenodd" d="M478.6 415.1 481.1 415.5 484.1 417 488.1 419.9 492.6 423.8 500.6 432.2 510.6 444.5 517.4 449.9 520 452.4 523.8 457.9 525.4 461.9 526.2 465.9 526.2 469.9 525.4 473.9 524 477.4 521.6 480.9 519.1 483.5 515.6 485.8 511.6 487.3 507.6 488.1 503.1 488.1 499.1 487.2 495.6 485.8 492 483.4 489 480.4 486.8 476.9 484.6 470.9 483.3 460.4 479.1 445.4 476.8 433.4 476.2 426.9 476.3 421.4 477.1 417.3Z"/>
<path fill="#ea6e3a" fill-rule="evenodd" d="M483.1 424.4 484.6 424.3 487.1 425.3 493.1 429.7 499.6 436.1 508.1 446 515.1 450.8 517.6 452.9 519.8 455.4 521.8 458.4 523.3 461.9 524 465.4 524.1 468.9 523.6 472.5 522.3 475.9 520.5 478.9 518.1 481.5 515.1 483.6 511.6 485.1 508.1 485.9 504.1 486 500.6 485.4 497.1 484.1 493.7 481.9 491.1 479.4 489 476.4 487.7 473.4 486.7 469.9 486.2 458.4 483.2 446.4 481.7 437.9 481.5 429.4 482.1 426.2Z"/>
<path fill="#e24a2e" fill-rule="evenodd" d="M488.1 433.4 490.6 433.9 495.1 437 506.1 448.3 512.6 451.9 515.6 454.1 518.1 456.8 520 459.9 521.2 462.9 521.8 465.9 521.8 469.4 521.2 472.4 520 475.4 518.3 477.9 516.1 480.1 513.6 481.7 510.6 482.9 507.1 483.6 503.6 483.5 500.6 482.9 497.6 481.6 495.1 479.9 492.6 477.4 491 474.9 489.7 471.9 488.9 468.4 488.8 464.9 489.4 457.4 487.5 447.9 486.7 441.9 486.8 436.4 487.4 434.4Z"/>
<path fill="#d22a24" fill-rule="evenodd" d="M493.1 442.4 494.6 442.8 497.1 444.4 504.6 451.1 510.6 453.8 513.1 455.4 515.7 457.9 517.7 460.9 519.3 465.9 519.3 468.9 518.8 471.4 516.5 475.9 514.6 477.9 512.6 479.2 510.1 480.3 507.1 480.9 504.2 480.9 501.7 480.4 499.1 479.3 496.9 477.9 495.1 476.2 493.5 473.9 492.1 470.4 491.6 466.4 492.9 457.4 491.9 445.9 492.3 443.4Z"/>
<path fill="#b81a1e" fill-rule="evenodd" d="M497.6 451.7 498.6 451.6 503.6 454.6 510.1 457.1 512.6 459 514.9 461.9 516.2 465.9 516.1 469.9 514.1 473.9 511.1 476.5 507.1 477.7 502.8 477.4 499.1 475.5 496.4 472.4 495.2 469.4 494.8 465.9 495.2 463.4 496.6 458.4 497.1 453.2Z"/>
<path fill="#981420" fill-rule="evenodd" d="M501.6 459.1 503.1 459.1 507.6 460.4 509.9 461.9 511.5 463.9 512.3 466.4 512.1 468.9 511.1 471.1 509.1 472.8 506.6 473.6 504.1 473.4 501.9 472.4 500.1 470.4 499.2 467.9 499.2 465.4 500 462.4Z"/>
</g>

<line x1="346.1" y1="395.1" x2="578.5" y2="395.1" stroke="#041404" stroke-width="3"/>
<g clip-path="url(#clip3)"><line x1="413.5" y1="525.0" x2="579.0" y2="365.8" stroke="#de7e34" stroke-width="4.6"/><line x1="413.5" y1="525.0" x2="579.0" y2="365.8" stroke="#9a2c06" stroke-width="2.5"/></g>
<rect x="346.1" y="301.9" width="232.4" height="222.3" fill="none" stroke="#557626" stroke-width="1.8"/>
<line x1="346.1" y1="524.2" x2="346.1" y2="519.2" stroke="#1a2a0a" stroke-width="1"/>
<line x1="346.1" y1="301.9" x2="351.1" y2="301.9" stroke="#1a2a0a" stroke-width="1"/>
<line x1="404.2" y1="524.2" x2="404.2" y2="519.2" stroke="#1a2a0a" stroke-width="1"/>
<line x1="346.1" y1="357.5" x2="351.1" y2="357.5" stroke="#1a2a0a" stroke-width="1"/>
<line x1="462.3" y1="524.2" x2="462.3" y2="519.2" stroke="#1a2a0a" stroke-width="1"/>
<line x1="346.1" y1="413.1" x2="351.1" y2="413.1" stroke="#1a2a0a" stroke-width="1"/>
<line x1="520.4" y1="524.2" x2="520.4" y2="519.2" stroke="#1a2a0a" stroke-width="1"/>
<line x1="346.1" y1="468.6" x2="351.1" y2="468.6" stroke="#1a2a0a" stroke-width="1"/>
<line x1="578.5" y1="524.2" x2="578.5" y2="519.2" stroke="#1a2a0a" stroke-width="1"/>
<line x1="346.1" y1="524.2" x2="351.1" y2="524.2" stroke="#1a2a0a" stroke-width="1"/>
<text x="339.9" y="536.7" font-size="12.5">10<tspan font-size="7.2" dy="-5">0</tspan></text>
<text x="321.5" y="305.7" font-size="12.5">10<tspan font-size="7.2" dy="-4.8">&#8722;3</tspan></text>
<text x="398.0" y="536.7" font-size="12.5">10<tspan font-size="7.2" dy="-5">1</tspan></text>
<text x="321.5" y="361.3" font-size="12.5">10<tspan font-size="7.2" dy="-4.8">&#8722;4</tspan></text>
<text x="456.1" y="536.7" font-size="12.5">10<tspan font-size="7.2" dy="-5">2</tspan></text>
<text x="321.5" y="416.9" font-size="12.5">10<tspan font-size="7.2" dy="-4.8">&#8722;5</tspan></text>
<text x="514.2" y="536.7" font-size="12.5">10<tspan font-size="7.2" dy="-5">3</tspan></text>
<text x="321.5" y="472.4" font-size="12.5">10<tspan font-size="7.2" dy="-4.8">&#8722;6</tspan></text>
<text x="572.3" y="536.7" font-size="12.5">10<tspan font-size="7.2" dy="-5">4</tspan></text>
<text x="321.5" y="528.0" font-size="12.5">10<tspan font-size="7.2" dy="-4.8">&#8722;7</tspan></text>
<text x="462.0" y="553.5" font-size="13" text-anchor="middle"><tspan font-style="italic">T</tspan><tspan font-size="7.5" dy="2.2">2</tspan><tspan dy="-2.2">/ms</tspan></text>
<text x="461.8" y="568.8" font-size="13" text-anchor="middle">(d) 2 966 m</text>
<text transform="translate(315.1 413.1) rotate(-90)" font-size="12.5" text-anchor="middle"><tspan font-style="italic">D</tspan>/(cm<tspan font-size="7.5" dy="-4.5">2</tspan><tspan dy="4.5">&#183;s</tspan><tspan font-size="7.5" dy="-4.5">&#8722;1</tspan><tspan dy="4.5">)</tspan></text>
<g transform="translate(358.1 378.1)" fill="none" stroke="#1a400c" stroke-width="1.15" stroke-linecap="round"><path d="M6.2 0.6 V10.8 L4.6 9.8 M1.0 3.6 H4.3 L0.8 9.2 M10.8 2.4 L7.6 5.2 M6.8 4.2 Q8.5 7.8 11.6 10.4 M 14.6 0.4 L 12.2 4.0 L 14.9 4.4 L 11.8 8.4 L 15.6 7.2 M 11.8 11.2 L 15.9 9.6 M 17 3.4 L 22 2.9 M 16.6 6.0 L 22.6 5.3 M 18.8 0.5 Q 19.6 7.0 22.8 11.0 M 22.6 7.3 L 17.2 11.4 M 20.8 0.6 L 22 1.6"/></g>
<g transform="translate(401.1 496.2)" fill="none" stroke="#1a400c" stroke-width="1.15" stroke-linecap="round"><path d="M1.4 0.8 L2.8 2.2 M0.8 4.6 L2.3 5.8 M0.9 11.2 L3.4 7.0 M5.2 3.6 H11.4 V11.0 H5.2 Z M8.3 0.4 V11.0 M5.2 7.2 H11.4 M 16.1 0.4 L 13.7 4.0 L 16.4 4.4 L 13.3 8.4 L 17.1 7.2 M 13.3 11.2 L 17.4 9.6 M 18.5 3.4 L 23.5 2.9 M 18.1 6.0 L 24.1 5.3 M 20.3 0.5 Q 21.1 7.0 24.3 11.0 M 24.1 7.3 L 18.7 11.4 M 22.3 0.6 L 23.5 1.6"/></g>
</svg></body></html>
